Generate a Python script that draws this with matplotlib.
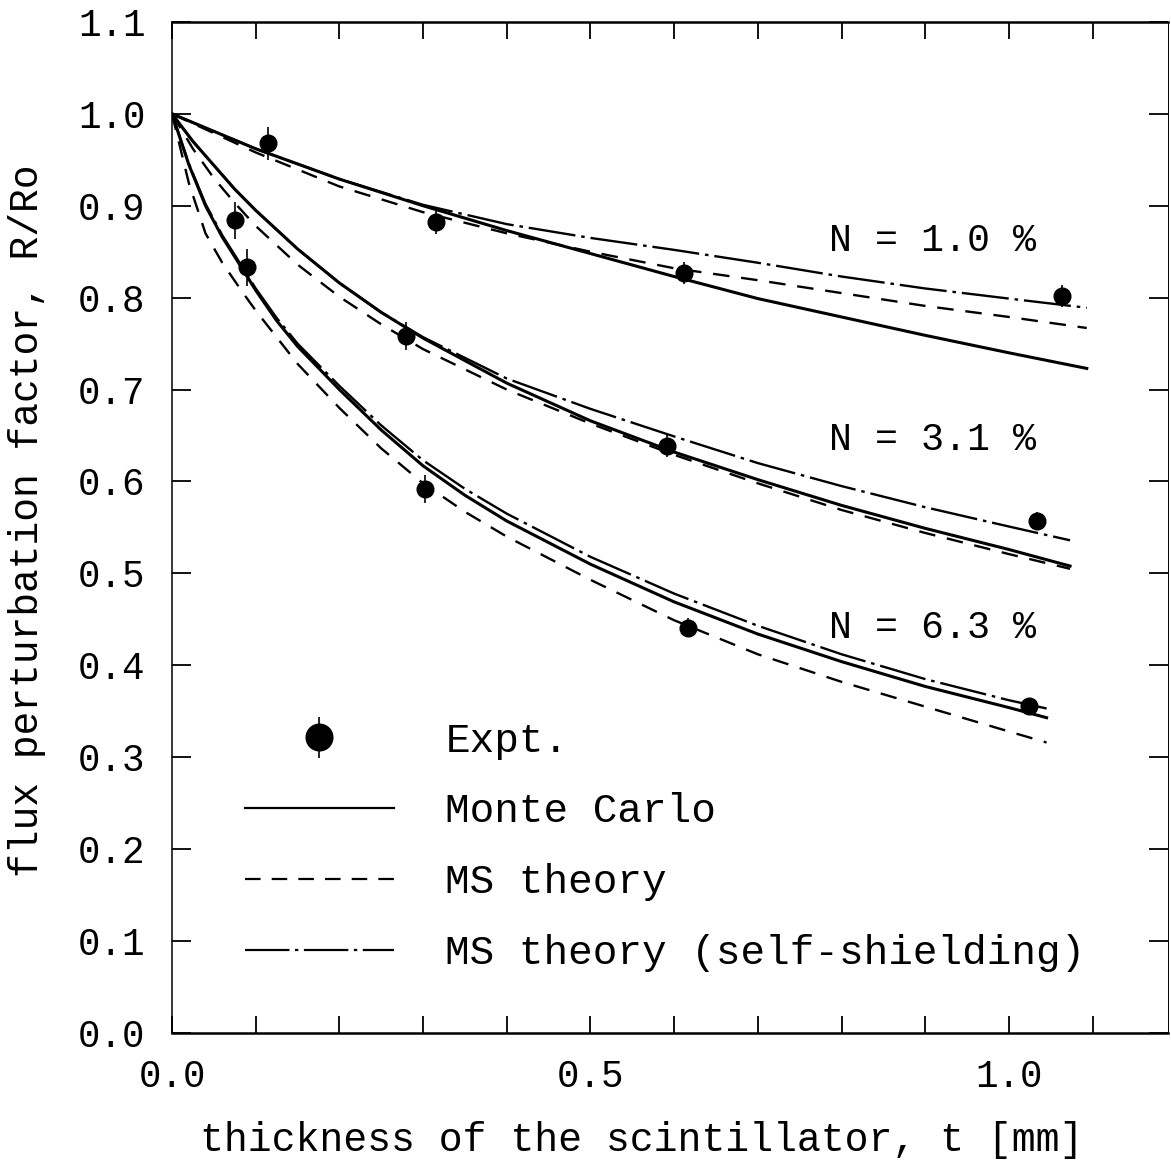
import matplotlib
matplotlib.use("Agg")
import matplotlib.pyplot as plt
from matplotlib.lines import Line2D

plt.rcParams['font.family'] = ['Liberation Mono', 'DejaVu Sans Mono']

# N = 1.0 %
x_n1 = [0.0, 0.1, 0.2, 0.3, 0.4, 0.5, 0.6, 0.7, 0.8, 0.9, 1.0, 1.093]
mc_n1 = [1.0, 0.962, 0.929, 0.900, 0.873, 0.848, 0.823, 0.799, 0.779, 0.759, 0.740, 0.723]
ms_n1 = [1.0, 0.958, 0.921, 0.893, 0.870, 0.850, 0.832, 0.819, 0.805, 0.791, 0.779, 0.767]
ss_n1 = [1.0, 0.962, 0.929, 0.901, 0.880, 0.865, 0.852, 0.838, 0.823, 0.810, 0.799, 0.789]

# N = 3.1 %
x_n3 = [0.0, 0.025, 0.05, 0.075, 0.1, 0.15, 0.2, 0.25, 0.3, 0.4, 0.5, 0.6, 0.7, 0.8, 0.9, 1.0, 1.073]
mc_n3 = [1.0, 0.970, 0.944, 0.918, 0.895, 0.853, 0.816, 0.784, 0.756, 0.707, 0.666, 0.632, 0.602,
         0.574, 0.549, 0.526, 0.508]
ms_n3 = [1.0, 0.962, 0.930, 0.903, 0.878, 0.836, 0.801, 0.771, 0.744, 0.700, 0.663, 0.629, 0.598,
         0.569, 0.544, 0.521, 0.505]
ss_n3 = [1.0, 0.970, 0.944, 0.918, 0.895, 0.853, 0.816, 0.784, 0.757, 0.712, 0.679, 0.649, 0.620,
         0.595, 0.572, 0.551, 0.536]

# N = 6.3 %
x_n6 = [0.0, 0.02, 0.04, 0.06, 0.085, 0.1, 0.125, 0.15, 0.2, 0.25, 0.3, 0.35, 0.4, 0.5, 0.6, 0.7,
        0.8, 0.9, 1.0, 1.045]
mc_n6 = [1.0, 0.945, 0.900, 0.866, 0.830, 0.808, 0.775, 0.747, 0.700, 0.656, 0.617, 0.585, 0.557,
         0.510, 0.469, 0.434, 0.404, 0.377, 0.354, 0.343]
ms_n6 = [1.0, 0.925, 0.870, 0.838, 0.805, 0.786, 0.757, 0.728, 0.680, 0.636, 0.598, 0.567, 0.540,
         0.493, 0.449, 0.412, 0.382, 0.355, 0.328, 0.316]
ss_n6 = [1.0, 0.946, 0.902, 0.868, 0.832, 0.810, 0.778, 0.750, 0.704, 0.661, 0.623, 0.592, 0.565,
         0.518, 0.478, 0.443, 0.412, 0.385, 0.362, 0.353]

# experimental points
expt_x = [0.115, 0.316, 0.612, 1.063,
          0.075, 0.280, 0.591, 1.033,
          0.089, 0.302, 0.616, 1.024]
expt_y = [0.968, 0.882, 0.827, 0.802,
          0.884, 0.758, 0.639, 0.557,
          0.833, 0.592, 0.441, 0.356]
expt_err = [0.018, 0.013, 0.012, 0.012,
            0.020, 0.015, 0.012, 0.010,
            0.020, 0.015, 0.010, 0.008]

labels_n = ['N = 1.0 %', 'N = 3.1 %', 'N = 6.3 %']
label_y = [0.862, 0.645, 0.441]

fig = plt.figure(figsize=(11.71, 11.61), dpi=100)
ax = fig.add_axes([0.1469, 0.1103, 0.8505, 0.8708])

dash = (0, (7, 5))
dashdot = (0, (20, 2.5, 1.5, 2.5))

for xs, mc, ms, ss in [(x_n1, mc_n1, ms_n1, ss_n1),
                       (x_n3, mc_n3, ms_n3, ss_n3),
                       (x_n6, mc_n6, ms_n6, ss_n6)]:
    ax.plot(xs, mc, color='k', lw=2.2, ls='-')
    ax.plot(xs, ms, color='k', lw=1.7, ls=dash)
    ax.plot(xs, ss, color='k', lw=1.7, ls=dashdot)

eb = ax.errorbar(expt_x, expt_y, yerr=expt_err, fmt='o', color='k', ms=12,
                 elinewidth=1.2, capsize=0, zorder=5)

for txt, yy in zip(labels_n, label_y):
    ax.text(0.785, yy, txt, fontsize=27.5, va='center', ha='left')

h_mc = Line2D([], [], color='k', lw=1.6, ls='-')
h_ms = Line2D([], [], color='k', lw=1.6, ls=dash)
h_ss = Line2D([], [], color='k', lw=1.6, ls=dashdot)
ax.legend([eb, h_mc, h_ms, h_ss],
          ['Expt.', 'Monte Carlo', 'MS theory', 'MS theory (self-shielding)'],
          loc='upper left', bbox_to_anchor=(0.073, 0.308), frameon=False,
          fontsize=29.5, handlelength=3.65, handletextpad=1.25, labelspacing=0.8,
          borderpad=0, borderaxespad=0, markerscale=1.6)

ax.set_xlim(0, 1.19)
ax.set_ylim(0, 1.1)
ax.set_xticks([i / 10 for i in range(12)])
ax.set_xticklabels(['0.0', '', '', '', '', '0.5', '', '', '', '', '1.0', ''])
ax.set_yticks([i / 10 for i in range(12)])
ax.set_yticklabels(['%.1f' % (i / 10) for i in range(12)])

ax.tick_params(axis='both', direction='in', labelsize=27, width=1.3)
ax.tick_params(axis='y', length=14, pad=19, right=True)
ax.tick_params(axis='x', length=12, pad=19, top=True)

for s in ['top', 'bottom']:
    ax.spines[s].set_linewidth(1.8)
ax.spines['left'].set_linewidth(1.1)
ax.spines['right'].set_linewidth(0.7)

ax.set_xlabel('thickness of the scintillator, t [mm]', fontsize=28.7)
ax.set_ylabel('flux perturbation factor, R/Ro', fontsize=28.5)
ax.xaxis.set_label_coords(0.472, -0.087)
ax.yaxis.set_label_coords(-0.127, 0.507)

fig.savefig('out.png', dpi=100)
